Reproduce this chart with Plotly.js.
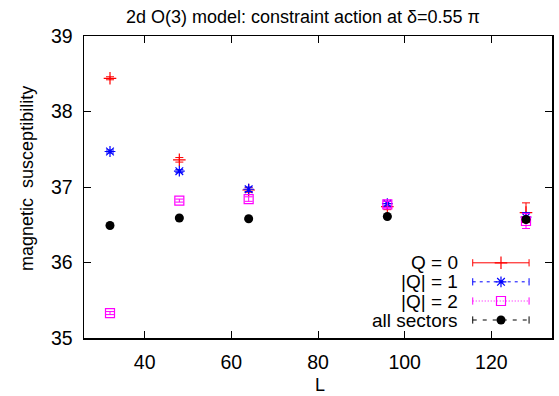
<!DOCTYPE html>
<html><head><meta charset="utf-8">
<script src="https://cdn.plot.ly/plotly-3.0.1.min.js"></script>
<style>html,body{margin:0;padding:0;background:#fff}#c{width:559px;height:396px}</style>
</head><body><div id="c"></div>
<script>
// ---- data ----
const L = [32, 48, 64, 96, 128];
const chiQ0 = [38.44, 37.36, 36.96, 36.74, 36.66];
const errQ0 = [0.02, 0.03, 0.03, 0.04, 0.13];
const chiQ1 = [37.47, 37.21, 36.97, 36.78, 36.60];
const errQ1 = [0.02, 0.02, 0.03, 0.03, 0.06];
const chiQ2 = [35.33, 36.82, 36.84, 36.77, 36.55];
const errQ2 = [0.02, 0.02, 0.03, 0.04, 0.10];
const chiAll = [36.49, 36.59, 36.58, 36.61, 36.57];
const errAll = [0.01, 0.01, 0.01, 0.01, 0.02];
const seriesNames = ["Q = 0", "|Q| = 1", "|Q| = 2", "all sectors"];
const xTicks = [40, 60, 80, 100, 120];
const yTicks = [35, 36, 37, 38, 39];

const FONT = "Liberation Sans, Arial, Helvetica, sans-serif";
const colors = ["#ff0000", "#0000ff", "#ff00ff", "#000000"];
const dashes = ["solid", "3px,4px", "1px,2px", "4px,6px"];
const symbols = ["cross-thin-open", "asterisk-open", "square-open", "circle"];
const sizes = [9, 9, 9, 9];
const ys = [chiQ0, chiQ1, chiQ2, chiAll];
const es = [errQ0, errQ1, errQ2, errAll];

const traces = [];
for (let i = 0; i < 4; i++) {
  traces.push({
    x: L, y: ys[i], type: "scatter", mode: "markers", name: seriesNames[i],
    marker: {symbol: symbols[i], size: sizes[i], color: colors[i],
             line: {color: colors[i], width: i === 3 ? 0 : 1.2}},
    error_y: {type: "data", array: es[i], visible: true, color: colors[i], thickness: 1, width: 4},
    showlegend: false, cliponaxis: false
  });
}

// custom legend (gnuplot style: text right-aligned, sample on the right)
const legRows = [0.249, 0.186, 0.1225, 0.0596];
const lx0 = 0.8306, lx1 = 0.951, lxm = 0.891, ltext = 0.803;
const shapes = [], annotations = [];
for (let i = 0; i < 4; i++) {
  shapes.push({type: "line", xref: "paper", yref: "paper", x0: lx0, x1: lx1, y0: legRows[i], y1: legRows[i],
               line: {color: colors[i], width: 1, dash: dashes[i]}});
  for (const xe of [lx0, lx1]) {
    shapes.push({type: "line", xref: "paper", yref: "paper", x0: xe, x1: xe,
                 y0: legRows[i] - 0.012, y1: legRows[i] + 0.012, line: {color: colors[i], width: 1}});
  }
  annotations.push({xref: "paper", yref: "paper", x: ltext, y: legRows[i], text: seriesNames[i],
                    xanchor: "right", yanchor: "middle", showarrow: false,
                    font: {family: FONT, size: 19, color: "#000"}});
  traces.push({x: [lxm], y: [legRows[i]], xaxis: "x2", yaxis: "y2", type: "scatter", mode: "markers",
               marker: {symbol: symbols[i], size: sizes[i], color: colors[i],
                        line: {color: colors[i], width: i === 3 ? 0 : 1.2}},
               showlegend: false, hoverinfo: "skip", cliponaxis: false});
}
// axis titles
annotations.push({xref: "paper", yref: "paper", x: 0.504, y: -0.155, text: "L", showarrow: false,
                  xanchor: "center", yanchor: "middle", font: {family: FONT, size: 18, color: "#000"}});
annotations.push({xref: "paper", yref: "paper", x: -0.1218, y: 0.53, text: "magnetic  susceptibility",
                  textangle: -90, showarrow: false, xanchor: "center", yanchor: "middle",
                  font: {family: FONT, size: 18, color: "#000"}});

const axisCommon = {showline: true, linecolor: "#000", linewidth: 1.5, mirror: "allticks",
                    ticks: "inside", ticklen: 7, tickwidth: 1, tickcolor: "#000",
                    showgrid: false, zeroline: false,
                    tickfont: {family: FONT, size: 19.5, color: "#000"}};

const layout = {
  width: 559, height: 396,
  margin: {l: 84, r: 7, t: 36, b: 58},
  paper_bgcolor: "#fff", plot_bgcolor: "#fff",
  title: {text: "2d O(3) model: constraint action at δ=0.55 π", x: 0.542, xref: "container",
          y: 0.957, yref: "container", yanchor: "middle", xanchor: "center",
          font: {family: FONT, size: 18, color: "#000"}},
  xaxis: Object.assign({}, axisCommon, {range: [26, 134], tickvals: xTicks, ticklabelstandoff: 6}),
  yaxis: Object.assign({}, axisCommon, {range: [35, 39], tickvals: yTicks, ticklabelstandoff: 6}),
  xaxis2: {overlaying: "x", range: [0, 1], visible: false, fixedrange: true},
  yaxis2: {overlaying: "y", range: [0, 1], visible: false, fixedrange: true},
  shapes: shapes, annotations: annotations, showlegend: false
};
Plotly.newPlot("c", traces, layout, {staticPlot: true, displayModeBar: false});
</script></body></html>
